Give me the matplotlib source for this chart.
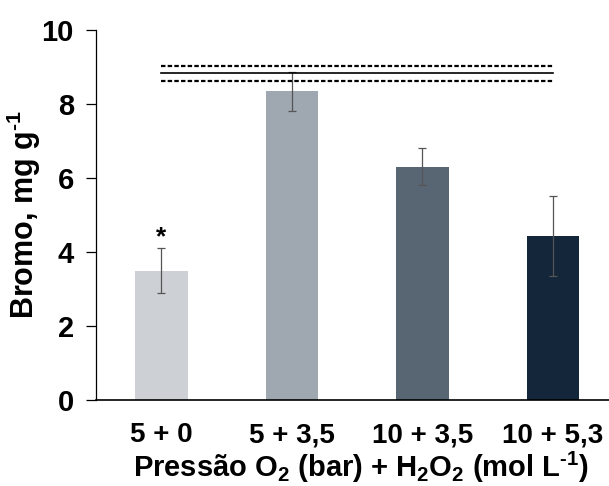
import matplotlib
matplotlib.use("Agg")
import matplotlib.pyplot as plt

# ── data ──────────────────────────────────────────────
categories = ["5 + 0", "5 + 3,5", "10 + 3,5", "10 + 5,3"]
bromo_mean = [3.50, 8.35, 6.30, 4.43]
bromo_err = [0.60, 0.53, 0.50, 1.08]
bar_colors = ["#cdd1d6", "#9fa7b0", "#586674", "#13263a"]
ref_mean = 8.83
ref_sd = 0.21
star_label = "*"

# ── style ─────────────────────────────────────────────
plt.rcParams["font.family"] = ["Liberation Sans", "DejaVu Sans"]
plt.rcParams["font.weight"] = "bold"
plt.rcParams["mathtext.fontset"] = "custom"
plt.rcParams["mathtext.rm"] = "Liberation Sans:bold"
plt.rcParams["mathtext.bf"] = "Liberation Sans:bold"
plt.rcParams["mathtext.it"] = "Liberation Sans:bold"

fig = plt.figure(figsize=(6.09, 4.86), dpi=100)
ax = fig.add_axes([0.158, 0.177, 0.842, 0.761])

x = list(range(len(categories)))
ax.bar(x, bromo_mean, width=0.4, color=bar_colors, zorder=2)
ax.errorbar(x, bromo_mean, yerr=bromo_err, fmt="none", ecolor="#555555",
            elinewidth=0.9, capsize=3, capthick=0.9, zorder=3)

# reference band (mean ± sd) from first to last group
ax.plot([x[0], x[-1]], [ref_mean, ref_mean], color="black", lw=1.2, zorder=4)
for yy in (ref_mean - ref_sd, ref_mean + ref_sd):
    ln, = ax.plot([x[0], x[-1]], [yy, yy], color="black", lw=1.6, zorder=4)
    ln.set_dashes([2, 1])

ax.text(x[0], bromo_mean[0] + bromo_err[0] + 0.3, star_label,
        ha="center", va="center", fontsize=19, fontweight="bold")

ax.set_xlim(-0.5, 3.43)
ax.set_ylim(0, 10)
ax.set_yticks([0, 2, 4, 6, 8, 10])
ax.set_xticks(x)
ax.set_xticklabels(categories)
ax.tick_params(axis="y", direction="out", length=7, width=0.9, labelsize=21, pad=9)
ax.tick_params(axis="x", length=0, labelsize=20, pad=16)
for lab in ax.get_xticklabels() + ax.get_yticklabels():
    lab.set_fontweight("bold")

for s in ("top", "right"):
    ax.spines[s].set_visible(False)
ax.spines["left"].set_linewidth(0.9)
ax.spines["bottom"].set_linewidth(1.2)

ax.set_ylabel(r"Bromo, mg g$^{\text{-1}}$", fontsize=22, fontweight="bold")
ax.yaxis.set_label_coords(-0.104, 0.5)
ax.set_xlabel(r"Pressão O$_{2}$ (bar) + H$_{2}$O$_{2}$ (mol L$^{\text{-1}}$)",
              fontsize=21, fontweight="bold", labelpad=1)
ax.xaxis.label.set_x(0.517)

fig.savefig("out.png", dpi=100)
